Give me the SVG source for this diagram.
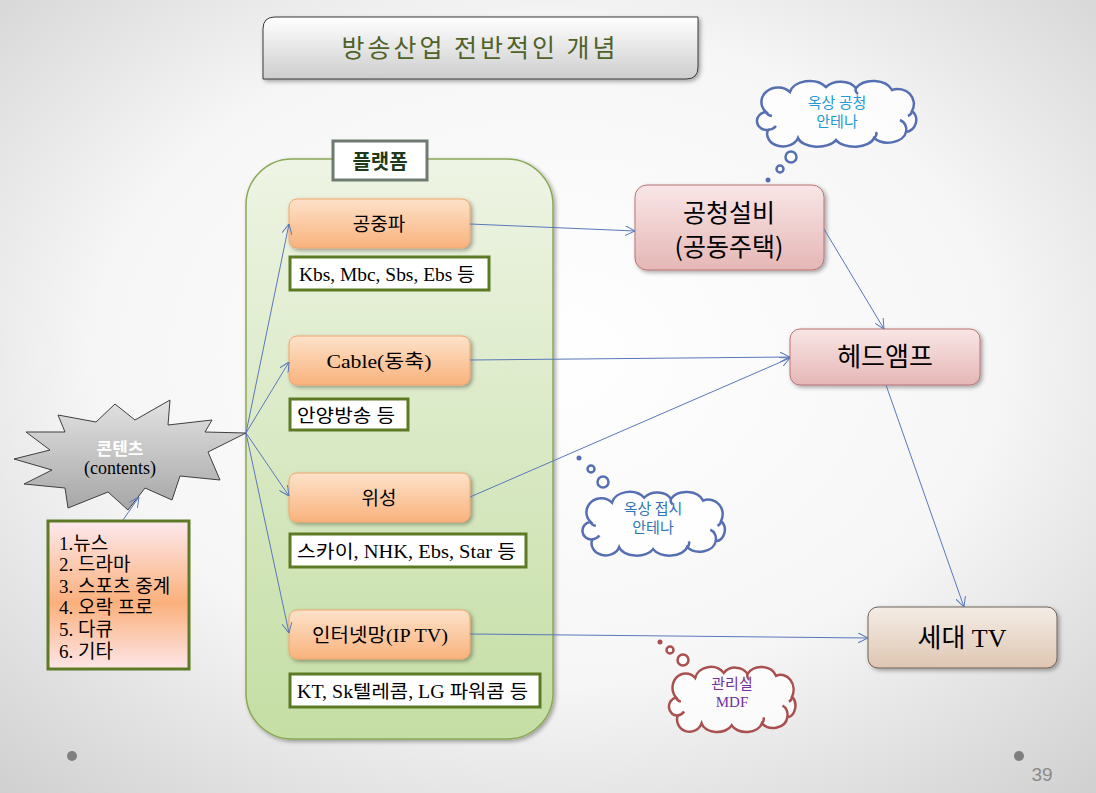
<svg xmlns="http://www.w3.org/2000/svg" xmlns:xlink="http://www.w3.org/1999/xlink" width="1096" height="793" viewBox="0 0 1096 793">
<defs>
<radialGradient id="bg" cx="0.5" cy="0.45" r="0.75">
<stop offset="0" stop-color="#ffffff"/><stop offset="0.55" stop-color="#f6f6f6"/><stop offset="1" stop-color="#cfcfcf"/>
</radialGradient>
<linearGradient id="gTitle" x1="0" y1="0" x2="0" y2="1"><stop offset="0" stop-color="#ffffff"/><stop offset="1" stop-color="#cdcdcd"/></linearGradient>
<linearGradient id="gPlat" x1="0" y1="0" x2="0" y2="1"><stop offset="0" stop-color="#eef4e4"/><stop offset="1" stop-color="#c4dea4"/></linearGradient>
<linearGradient id="gOr" x1="0" y1="0" x2="0" y2="1"><stop offset="0" stop-color="#fde2ca"/><stop offset="1" stop-color="#f9b27c"/></linearGradient>
<linearGradient id="gPink" x1="0" y1="0" x2="0" y2="1"><stop offset="0" stop-color="#f9e6e6"/><stop offset="1" stop-color="#e5b7b6"/></linearGradient>
<linearGradient id="gBeige" x1="0" y1="0" x2="0" y2="1"><stop offset="0" stop-color="#f4ede6"/><stop offset="1" stop-color="#dfc6b2"/></linearGradient>
<linearGradient id="gStar" x1="0" y1="0" x2="0" y2="1"><stop offset="0" stop-color="#e2e2e2"/><stop offset="1" stop-color="#a6a6a6"/></linearGradient>
<linearGradient id="gList" x1="0" y1="0" x2="0" y2="1"><stop offset="0" stop-color="#fde9ee"/><stop offset="0.55" stop-color="#fbb07c"/><stop offset="1" stop-color="#fde6e8"/></linearGradient>
<filter id="sh" x="-10%" y="-10%" width="130%" height="140%"><feDropShadow dx="2" dy="2" stdDeviation="2" flood-color="#000" flood-opacity="0.35"/></filter>
<marker id="ar" viewBox="0 0 10 10" markerWidth="10" markerHeight="10" refX="10" refY="5" orient="auto" markerUnits="userSpaceOnUse">
<path d="M0,0 L10,5 L0,10" fill="none" stroke="#5a78b8" stroke-width="1"/>
</marker>
<g id="cloud">
<path vector-effect="non-scaling-stroke" fill="#ffffff" fill-opacity="0.75" d="M 14,34 A 16,14 0 0 1 38,14 A 20,14 0 0 1 74,9 A 18,13 0 0 1 104,10 A 20,14 0 0 1 140,12 A 16,15 0 0 1 160,33 A 12,12 0 0 1 154,54 A 18,12 0 0 1 122,60 A 20,11 0 0 1 84,62 A 20,11 0 0 1 46,60 A 14,11 0 0 1 16,52 A 10,9 0 0 1 14,34 Z"/>
<path vector-effect="non-scaling-stroke" fill="none" d="M 16,52 A 12,8 0 0 0 24,48 M 154,54 A 10,10 0 0 0 148,42 M 160,33 A 8,6 0 0 1 156,38 M 104,10 A 8,6 0 0 0 106,16 M 122,60 A 8,6 0 0 0 124,54 M 14,34 A 8,6 0 0 0 20,38"/>
</g>
<style>
.cn{stroke:#5a78b8;stroke-width:1;fill:none;marker-end:url(#ar)}
.ob{fill:url(#gOr);stroke:#f2a56c;stroke-width:1}
.gb{fill:#ffffff;stroke:#5c7a24;stroke-width:3}
.ser{font-family:"Liberation Serif","Noto Sans CJK KR",serif;fill:#000}
.sans{font-family:"Noto Sans CJK KR","Liberation Sans",sans-serif;fill:#000}
.pk{fill:url(#gPink);stroke:#b97372;stroke-width:1}
</style>
</defs>

<rect width="1096" height="793" fill="url(#bg)"/>
<circle cx="72" cy="756" r="5" fill="#7f7f7f"/>
<circle cx="1019" cy="756" r="5" fill="#7f7f7f"/>
<text x="1042" y="781" text-anchor="middle" font-family="Liberation Sans, sans-serif" font-size="19" fill="#8a8a8a">39</text>

<g id="title">
<path d="M275,17 H698 V67 Q698,79 686,79 H263 V29 Q263,17 275,17 Z" fill="url(#gTitle)" stroke="#3a3a3a" stroke-width="1" filter="url(#sh)"/>
<text x="480" y="57" text-anchor="middle" class="sans" font-size="25" letter-spacing="3" style="fill:#4f6228">방송산업 전반적인 개념</text>
</g>

<g id="platform">
<rect x="246" y="159" width="307" height="580" rx="46" fill="url(#gPlat)" stroke="#8aa957" stroke-width="1.5" filter="url(#sh)"/>
<rect x="333" y="141" width="94" height="39" fill="#ffffff" stroke="#6f7b70" stroke-width="3"/>
<text x="380" y="169" text-anchor="middle" class="sans" font-size="20" font-weight="bold" style="fill:#1f3a1a">플랫폼</text>
</g>

<g id="n-gongjungpa">
<rect class="ob" x="289" y="199" width="181" height="49" rx="8" filter="url(#sh)"/>
<text x="379" y="231" text-anchor="middle" class="ser" font-size="19">공중파</text>
</g>
<g id="n-gongjungpa-sub">
<rect class="gb" x="290" y="257" width="199" height="33"/>
<text x="299" y="281" class="ser" font-size="18" textLength="176" lengthAdjust="spacingAndGlyphs">Kbs, Mbc, Sbs, Ebs 등</text>
</g>

<g id="n-cable">
<rect class="ob" x="289" y="336" width="181" height="49" rx="8" filter="url(#sh)"/>
<text x="379" y="368" text-anchor="middle" class="ser" font-size="19" textLength="105" lengthAdjust="spacingAndGlyphs">Cable(동축)</text>
</g>
<g id="n-cable-sub">
<rect class="gb" x="290" y="399" width="118" height="31"/>
<text x="297" y="422" class="ser" font-size="18" textLength="98" lengthAdjust="spacingAndGlyphs">안양방송 등</text>
</g>

<g id="n-satellite">
<rect class="ob" x="289" y="473" width="181" height="49" rx="8" filter="url(#sh)"/>
<text x="379" y="505" text-anchor="middle" class="ser" font-size="19">위성</text>
</g>
<g id="n-satellite-sub">
<rect class="gb" x="290" y="534" width="236" height="33"/>
<text x="297" y="558" class="ser" font-size="18" textLength="219" lengthAdjust="spacingAndGlyphs">스카이, NHK, Ebs, Star 등</text>
</g>

<g id="n-iptv">
<rect class="ob" x="289" y="610" width="181" height="49" rx="8" filter="url(#sh)"/>
<text x="380" y="642" text-anchor="middle" class="ser" font-size="19" textLength="136" lengthAdjust="spacingAndGlyphs">인터넷망(IP TV)</text>
</g>
<g id="n-iptv-sub">
<rect class="gb" x="290" y="674" width="250" height="33"/>
<text x="297" y="698" class="ser" font-size="18" textLength="231" lengthAdjust="spacingAndGlyphs">KT, Sk텔레콤, LG 파워콤 등</text>
</g>

<g id="n-contents">
<polygon points="246,433 208,452 220,480 180,476 172,500 145,488 128,510 108,492 68,508 65,488 24,484 52,470 14,459 50,450 26,432 65,432 58,415 96,422 115,404 135,420 170,400 168,425 212,420 205,432" fill="url(#gStar)" stroke="#3f3f3f" stroke-width="1"/>
<text x="120" y="455" text-anchor="middle" class="sans" font-size="17" font-weight="bold" style="fill:#ffffff">콘텐츠</text>
<text x="120" y="474" text-anchor="middle" class="ser" font-size="18">(contents)</text>
</g>

<g id="n-list">
<rect x="48" y="521" width="141" height="148" fill="url(#gList)" stroke="#5f7a26" stroke-width="3"/>
<g class="ser" font-size="19">
<text x="59" y="550">1.뉴스</text>
<text x="59" y="571">2. 드라마</text>
<text x="59" y="593">3. 스포츠 중계</text>
<text x="59" y="614">4. 오락 프로</text>
<text x="59" y="636">5. 다큐</text>
<text x="59" y="658">6. 기타</text>
</g>
</g>

<g id="n-gongcheong">
<rect class="pk" x="635" y="185" width="189" height="85" rx="12" filter="url(#sh)"/>
<text x="729" y="222" text-anchor="middle" class="sans" font-size="25">공청설비</text>
<text x="729" y="256" text-anchor="middle" class="sans" font-size="25">(공동주택)</text>
</g>

<g id="n-headamp">
<rect class="pk" x="790" y="329" width="190" height="56" rx="10" filter="url(#sh)"/>
<text x="885" y="366" text-anchor="middle" class="sans" font-size="26">헤드앰프</text>
</g>

<g id="n-tv">
<rect x="868" y="607" width="189" height="61" rx="10" fill="url(#gBeige)" stroke="#6e6258" stroke-width="1" filter="url(#sh)"/>
<text x="962" y="647" text-anchor="middle" class="ser" font-size="26">세대 TV</text>
</g>

<g id="connectors">
<line class="cn" x1="246" y1="433" x2="289" y2="224"/>
<line class="cn" x1="246" y1="433" x2="289" y2="362"/>
<line class="cn" x1="246" y1="433" x2="289" y2="496"/>
<line class="cn" x1="246" y1="433" x2="289" y2="633"/>
<line class="cn" x1="123" y1="520" x2="139" y2="497"/>
<line class="cn" x1="470" y1="224" x2="635" y2="231"/>
<line class="cn" x1="470" y1="360" x2="790" y2="357"/>
<line class="cn" x1="470" y1="497" x2="790" y2="358"/>
<line class="cn" x1="470" y1="634" x2="868" y2="638"/>
<line class="cn" x1="824" y1="229" x2="884" y2="329"/>
<line class="cn" x1="886" y1="385" x2="964" y2="607"/>
</g>

<g id="cloud-top">
<use xlink:href="#cloud" href="#cloud" transform="translate(752,78)" stroke="#566fb2" stroke-width="2.5"/>
<circle cx="791" cy="157" r="5.5" fill="#fff" stroke="#566fb2" stroke-width="2.5"/>
<circle cx="780" cy="169" r="3.5" fill="#fff" stroke="#566fb2" stroke-width="2.5"/>
<circle cx="768" cy="180" r="2.5" fill="#566fb2"/>
<text x="837" y="108" text-anchor="middle" class="sans" font-size="15" style="fill:#1f9ad3">옥상 공청</text>
<text x="837" y="127" text-anchor="middle" class="sans" font-size="15" style="fill:#1f9ad3">안테나</text>
</g>

<g id="cloud-mid">
<use xlink:href="#cloud" href="#cloud" transform="translate(578,489) scale(0.894,0.97)" stroke="#566fb2" stroke-width="2.5"/>
<circle cx="579" cy="458" r="2.5" fill="#566fb2"/>
<circle cx="591" cy="469" r="3.5" fill="#fff" stroke="#566fb2" stroke-width="2.5"/>
<circle cx="603" cy="482" r="5.5" fill="#fff" stroke="#566fb2" stroke-width="2.5"/>
<text x="653" y="514" text-anchor="middle" class="sans" font-size="15" style="fill:#2e75b6">옥상 접시</text>
<text x="653" y="533" text-anchor="middle" class="sans" font-size="15" style="fill:#2e75b6">안테나</text>
</g>

<g id="cloud-mdf">
<use xlink:href="#cloud" href="#cloud" transform="translate(665,664) scale(0.794,0.99)" stroke="#a9504e" stroke-width="2.5"/>
<circle cx="660" cy="642" r="2.5" fill="#a9504e"/>
<circle cx="670" cy="650" r="3.5" fill="#fff" stroke="#a9504e" stroke-width="2.5"/>
<circle cx="683" cy="660" r="5.5" fill="#fff" stroke="#a9504e" stroke-width="2.5"/>
<text x="732" y="689" text-anchor="middle" class="sans" font-size="15" style="fill:#7030a0">관리실</text>
<text x="732" y="707" text-anchor="middle" class="ser" font-size="15" style="fill:#7030a0">MDF</text>
</g>
</svg>
